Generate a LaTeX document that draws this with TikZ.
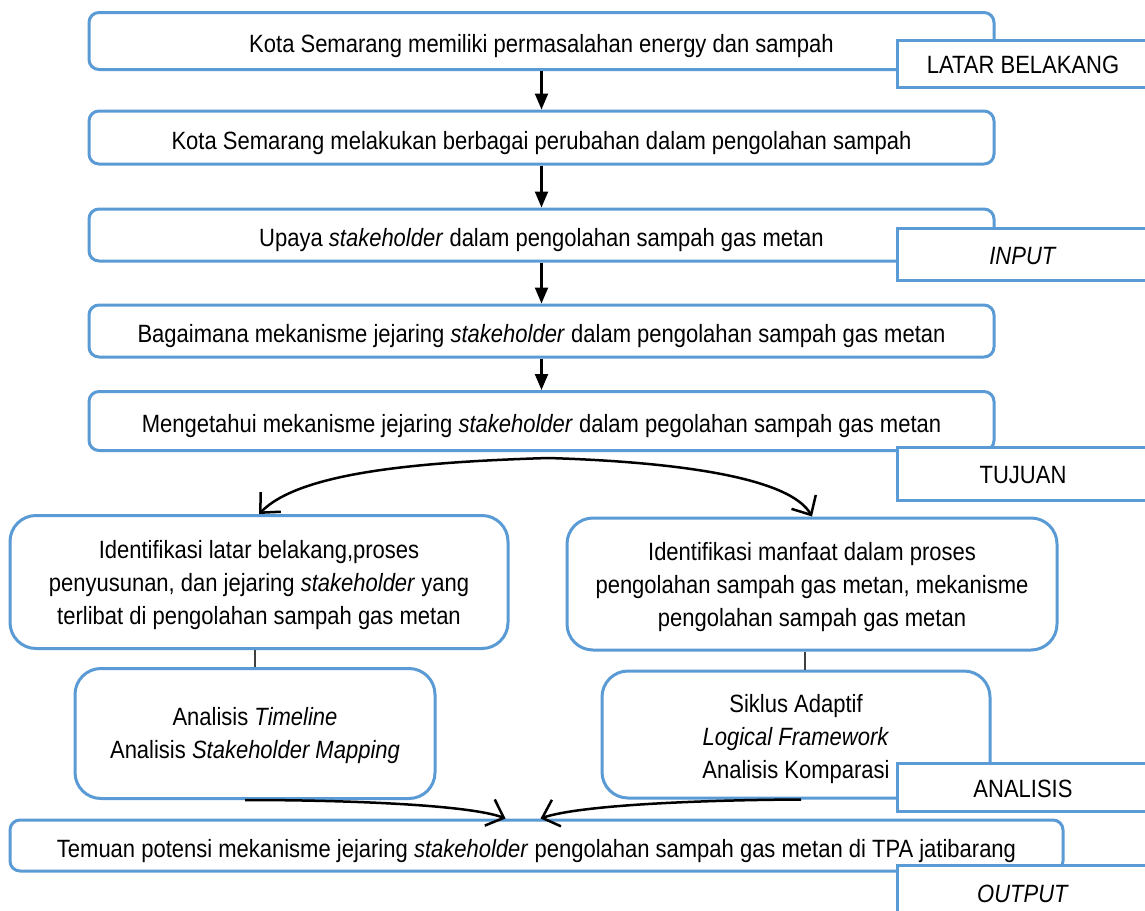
\documentclass[tikz,border=0pt]{standalone}
\usepackage{fontspec}
\setmainfont{Liberation Sans}[FakeStretch=0.88]
\usetikzlibrary{arrows.meta}
\definecolor{boxblue}{RGB}{91,155,213}
\newcommand{\firstup}{\rule{0pt}{25pt}}
\begin{document}
\begin{tikzpicture}[x=1pt,y=-1pt,
  font=\fontsize{25}{33}\selectfont,
  mainbox/.style={draw=boxblue,line width=3pt,rounded corners=10pt,fill=white,inner sep=0pt,text height=24.5pt,text depth=1pt},
  bigbox/.style={draw=boxblue,line width=3pt,rounded corners=26pt,fill=white,inner sep=0pt,align=center},
  tagbox/.style={draw=boxblue,line width=3pt,fill=white,inner sep=0pt,minimum width=252pt,text height=20pt,text depth=0pt},
  flow/.style={draw=black,line width=2.2pt,-{Triangle[length=16pt,width=13pt]}},
  curvedarrow/.style={draw=black,line width=2.5pt,-{Straight Barb[length=15pt,width=28pt]}},
  link/.style={draw=black!75,line width=1.5pt}]
\clip (0,0) rectangle (1145,910);
\fill[white] (0,0) rectangle (1145,910);

% main flow boxes
\node[mainbox,minimum width=905pt,minimum height=57pt] (b1) at (541.5,41) {Kota Semarang memiliki permasalahan energy dan sampah};
\node[mainbox,minimum width=905pt,minimum height=53pt] (b2) at (541.5,137.5) {Kota Semarang melakukan berbagai perubahan dalam pengolahan sampah};
\node[mainbox,minimum width=905pt,minimum height=52pt] (b3) at (541.5,235) {Upaya \textit{stakeholder} dalam pengolahan sampah gas metan};
\node[mainbox,minimum width=905pt,minimum height=52pt] (b4) at (541.5,331) {Bagaimana mekanisme jejaring \textit{stakeholder} dalam pengolahan sampah gas metan};
\node[mainbox,minimum width=905pt,minimum height=59pt] (b5) at (541.5,421) {Mengetahui mekanisme jejaring \textit{stakeholder} dalam pegolahan sampah gas metan};

\node[bigbox,minimum width=498pt,minimum height=133pt] (l1) at (259,582) {\firstup Identifikasi latar belakang,proses\\penyusunan, dan jejaring \textit{stakeholder} yang\\terlibat di pengolahan sampah gas metan};
\node[bigbox,minimum width=490pt,minimum height=132pt] (r1) at (812,584) {\rule{0pt}{24pt}Identifikasi manfaat dalam proses\\pengolahan sampah gas metan, mekanisme\\pengolahan sampah gas metan};
\node[bigbox,minimum width=360pt,minimum height=130pt] (l2) at (255,733.5) {\rule{0pt}{23pt}Analisis \textit{Timeline}\\Analisis \textit{Stakeholder Mapping}};
\node[bigbox,minimum width=388pt,minimum height=127pt] (r2) at (796,734.5) {\rule{0pt}{28pt}Siklus Adaptif\\\textit{Logical Framework}\\Analisis Komparasi};
\node[mainbox,minimum width=1053pt,minimum height=51pt] (b6) at (536.5,845.5) {Temuan potensi mekanisme jejaring \textit{stakeholder} pengolahan sampah gas metan di TPA jatibarang};

% connectors
\draw[flow] (b1) -- (b2);
\draw[flow] (b2) -- (b3);
\draw[flow] (b3) -- (b4);
\draw[flow] (b4) -- (b5);

\coordinate (split) at (548,458);
\draw[curvedarrow] (split) .. controls (420,462) and (300,472) .. (l1.north);
\draw[curvedarrow] (split) .. controls (680,462) and (790,478) .. (r1.north);

\draw[link] (l2.north |- l1.south) -- (l2.north);
\draw[link] ([xshift=9pt]r2.north |- r1.south) -- ([xshift=9pt]r2.north);

\draw[curvedarrow] ([xshift=-10pt]l2.south) .. controls (350,800) and (470,805) .. ([xshift=-31pt]b6.north);
\draw[curvedarrow] ([xshift=5pt]r2.south) .. controls (700,800) and (580,805) .. ([xshift=4pt]b6.north);

% stage labels
\node[tagbox,minimum height=47pt] (tLatar) at (1023,63.5) {LATAR BELAKANG};
\node[tagbox,minimum height=52pt] (tInput) at (1023,254) {\textit{INPUT}};
\node[tagbox,minimum height=53pt] (tTujuan) at (1023,473.5) {TUJUAN};
\node[tagbox,minimum height=48pt] (tAnalisis) at (1023,787) {ANALISIS};
\node[tagbox,minimum height=54pt] (tOutput) at (1023,892) {\textit{OUTPUT}};
\end{tikzpicture}
\end{document}
